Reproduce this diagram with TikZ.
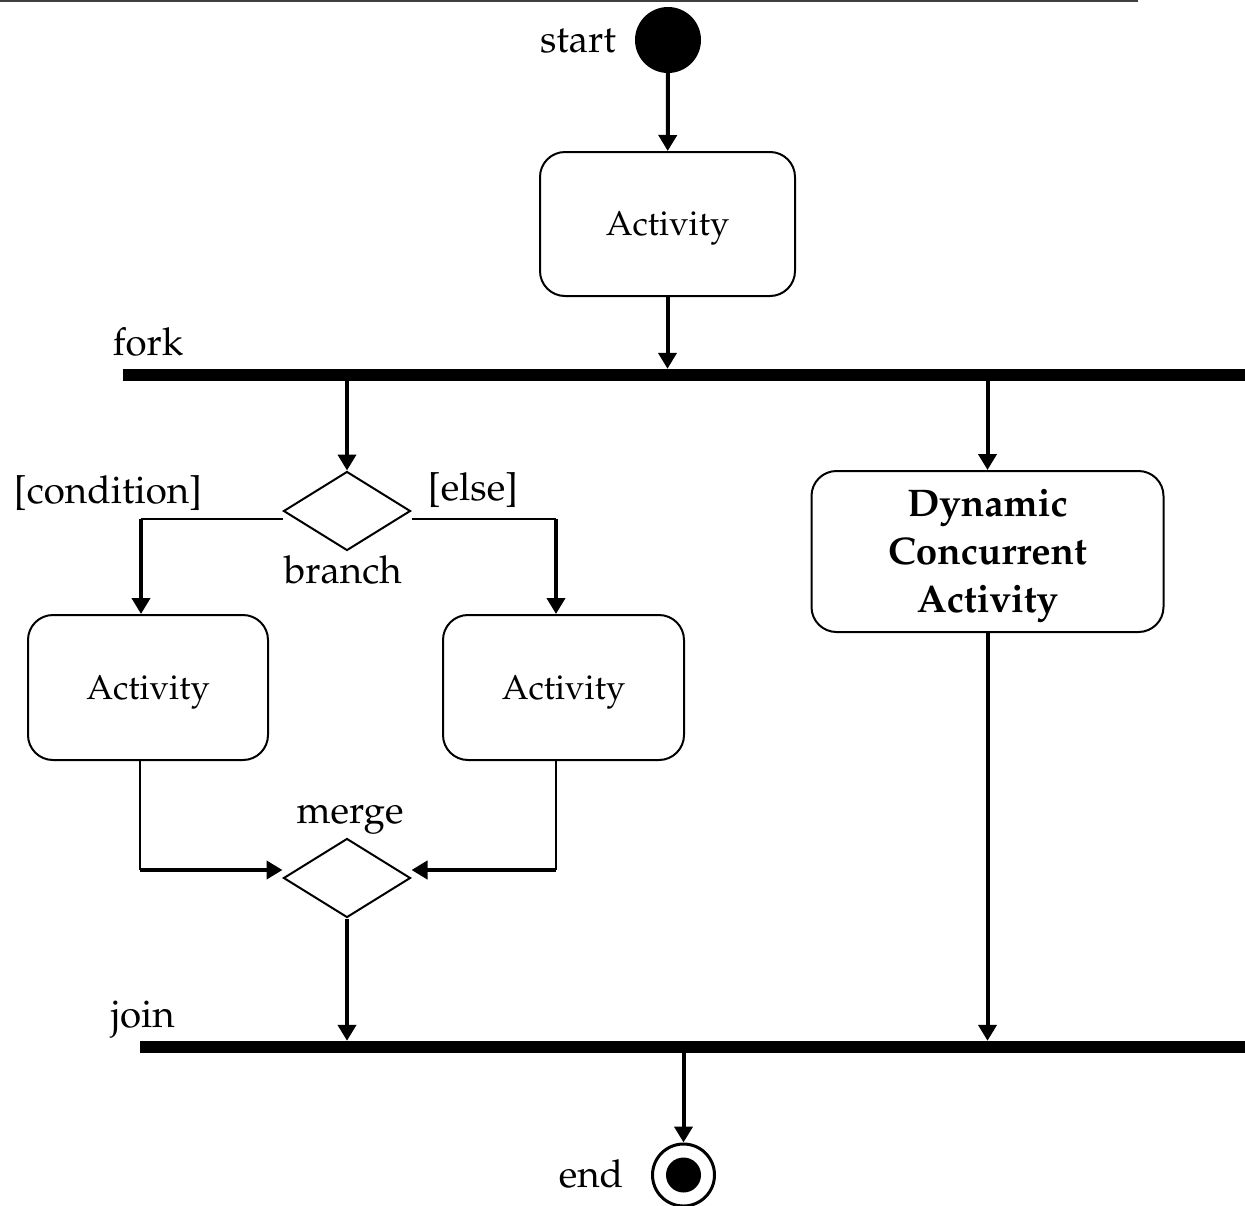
\documentclass[tikz,border=0pt]{standalone}
\usepackage[T1]{fontenc}
\usepackage{mathpazo}
\usetikzlibrary{shapes.geometric,arrows.meta}
\tikzset{
  thinline/.style={line width=2pt},
  flow/.style={line width=4pt,-{Triangle[length=16pt,width=18pt]}},
  actbox/.style={draw,line width=2pt,rounded corners=25pt,inner sep=0pt,text depth=0pt,
    font=\fontsize{34.5pt}{40pt}\selectfont},
  decision/.style={draw,diamond,line width=2pt,inner sep=0pt,aspect=1.6,
    minimum width=127pt,minimum height=79pt},
  bar/.style={fill=black,draw=none,rectangle,inner sep=0pt,minimum height=12pt},
  lbl/.style={inner sep=0pt,anchor=base,font=\fontsize{38.5pt}{46pt}\selectfont},
}
\begin{document}
\begin{tikzpicture}[x=1pt,y=-1pt]
\useasboundingbox (0,0) rectangle (1245,1205);
\draw[line width=2.5pt,black!75] (0,1) -- (1138,1);
% nodes
\node[circle,fill=black,inner sep=0pt,minimum size=66pt] (start) at (668,40) {};
\node[lbl] (startl) at (578,52) {start};
\node[actbox,minimum width=255pt,minimum height=144pt] (act1) at (667.5,224) {Activity};
\node[bar,minimum width=1122pt] (fork) at (684,375) {};
\node[lbl] (forkl) at (148,355) {fork};
\node[decision] (branch) at (347,511) {};
\node[lbl] (branchl) at (343,583) {branch};
\node[lbl] (condl) at (108,503) {[condition]};
\node[lbl] (elsel) at (473,500) {[else]};
\node[actbox,minimum width=240pt,minimum height=145pt] (act2) at (148,687.5) {Activity};
\node[actbox,minimum width=241pt,minimum height=145pt] (act3) at (563.5,687.5) {Activity};
\node[actbox,align=center,minimum width=352pt,minimum height=161pt,
  font=\fontsize{38.5pt}{48pt}\selectfont\bfseries] (dyn) at (987.5,551.5)
  {Dynamic\\Concurrent\\Activity};
\node[decision] (merge) at (347,878) {};
\node[lbl] (mergel) at (350,823) {merge};
\node[bar,minimum width=1105pt] (join) at (692.5,1047) {};
\node[lbl] (joinl) at (143,1027) {join};
\node[circle,draw,line width=3pt,inner sep=0pt,minimum size=62pt] (endc) at (683.5,1175) {};
\node[circle,fill=black,inner sep=0pt,minimum size=35pt] (endi) at (endc.center) {};
\node[lbl] (endl) at (591,1187) {end};
% coordinates
\coordinate (bl) at (141,519);
\coordinate (br) at (556,519);
\coordinate (ml) at (140,870);
\coordinate (mr) at (556,870);
% connectors
\draw[flow] (start) -- (act1);
\draw[flow] (act1.south) -- (act1.south |- fork.north);
\draw[flow] (fork.south -| branch.north) -- (branch.north);
\draw[thinline] ([yshift=-8pt]branch.west) -- (bl);
\draw[flow] (bl) -- (bl |- act2.north);
\draw[thinline] ([yshift=-8pt]branch.east) -- (br);
\draw[flow] (br) -- (br |- act3.north);
\draw[thinline] (act2.south -| ml) -- (ml);
\draw[flow] (ml) -- (ml -| merge.west);
\draw[thinline] (act3.south -| mr) -- (mr);
\draw[flow] (mr) -- (mr -| merge.east);
\draw[flow] (merge.south) -- (merge.south |- join.north);
\draw[flow] (fork.south -| dyn.north) -- (dyn.north);
\draw[flow] (dyn.south) -- (dyn.south |- join.north);
\draw[flow] (join.south -| endc.north) -- (endc.north);
\end{tikzpicture}
\end{document}
